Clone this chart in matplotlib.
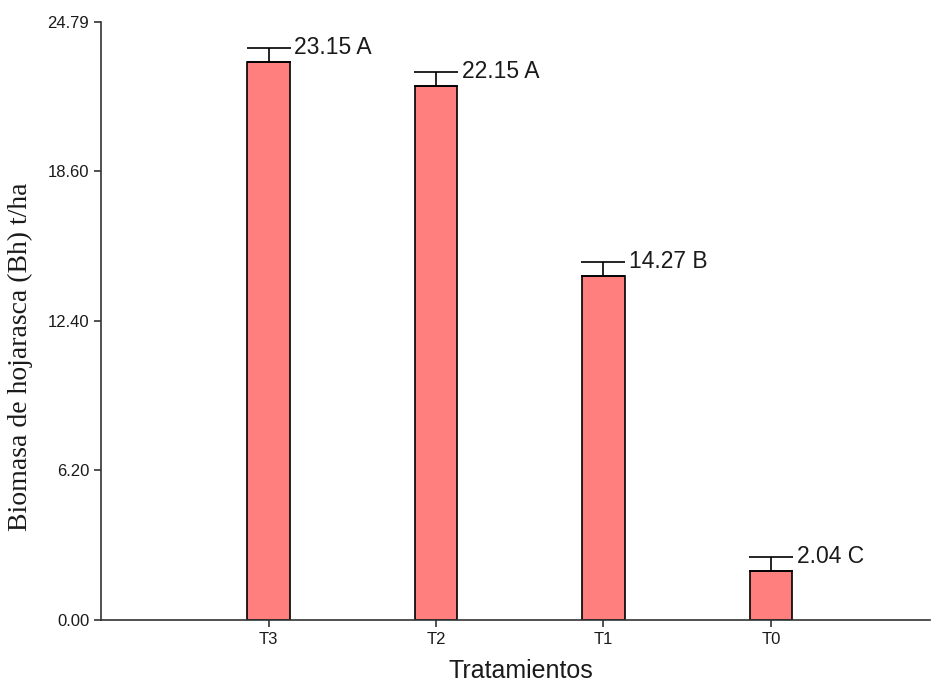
import matplotlib
matplotlib.use('Agg')
import matplotlib.pyplot as plt
from matplotlib import font_manager

# data
tratamientos = ['T3', 'T2', 'T1', 'T0']
biomasa = [23.15, 22.15, 14.27, 2.04]
error = [0.58, 0.58, 0.58, 0.58]
letras = ['A', 'A', 'B', 'C']
yticks = [0.00, 6.20, 12.40, 18.60, 24.79]

names = {f.name for f in font_manager.fontManager.ttflist}
narrow = 'Liberation Sans Narrow' if 'Liberation Sans Narrow' in names else 'Liberation Sans'

fig = plt.figure(figsize=(9.32, 6.86), dpi=100)
ax = fig.add_axes([0.1084, 0.0962, 0.8895, 0.8717])

x = list(range(len(tratamientos)))
ax.bar(x, biomasa, width=0.255, color='#ff7f7f', edgecolor='black', linewidth=1.2, zorder=2)
ax.errorbar(x, biomasa, yerr=[[0]*len(error), error], fmt='none', ecolor='black',
            elinewidth=1.2, capsize=16, capthick=1.2, zorder=3)

for xi, v, e, l in zip(x, biomasa, error, letras):
    ax.text(xi + 0.155, v + e, '{:.2f} {}'.format(v, l), fontsize=16.5, family=narrow,
            va='center', ha='left', color='#1a1a1a')

ax.set_xlim(-1.0, 3.95)
ax.set_ylim(0, 24.79)
ax.set_yticks(yticks)
ax.set_yticklabels(['{:.2f}'.format(t) for t in yticks], family=narrow, fontsize=12)
ax.set_xticks(x)
ax.set_xticklabels(tratamientos, family=narrow, fontsize=12)
ax.tick_params(direction='out', length=5, width=1.2, colors='#333333', labelcolor='#1a1a1a')

for s in ['top', 'right']:
    ax.spines[s].set_visible(False)
for s in ['left', 'bottom']:
    ax.spines[s].set_linewidth(1.2)
    ax.spines[s].set_color('#333333')

ax.set_xlabel('Tratamientos', family=narrow, fontsize=18, color='#1a1a1a')
ax.set_ylabel('Biomasa de hojarasca (Bh) t/ha', family='Liberation Serif', fontsize=20,
              color='#1a1a1a')
ax.yaxis.set_label_coords(-0.082, 0.44)
ax.xaxis.set_label_coords(0.506, -0.066)

fig.savefig('out.png', dpi=100)
